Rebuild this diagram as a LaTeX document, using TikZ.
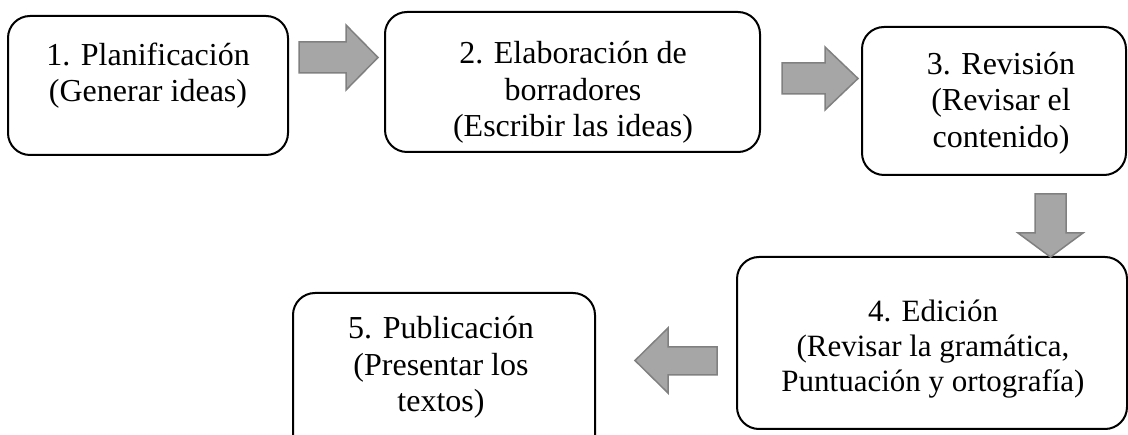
\documentclass[tikz,border=0pt]{standalone}
\usepackage{fontspec}
\setmainfont{Liberation Serif}
\definecolor{arrfill}{RGB}{166,166,166}
\definecolor{arredge}{RGB}{128,128,128}
\begin{document}
\begin{tikzpicture}[x=1pt,y=-1pt,
  box/.style={draw=black, line width=2pt, rounded corners=22pt, inner sep=0pt, rectangle},
  txt/.style={align=center, inner sep=0pt, font=\fontsize{32}{36.5}\selectfont},
  blockarrow/.style={fill=arrfill, draw=arredge, line width=1.5pt, line join=miter}]
\useasboundingbox (0,0) rectangle (1128,435);
\fill[white] (0,0) rectangle (1128,435);
% boxes
\node[box, minimum width=280pt, minimum height=139pt] (b1) at (148,85.5) {};
\node[box, minimum width=375pt, minimum height=140pt] (b2) at (572.5,82) {};
\node[box, minimum width=264pt, minimum height=148pt] (b3) at (994,101) {};
\node[box, minimum width=390pt, minimum height=172pt] (b4) at (932,343) {};
\node[box, minimum width=302pt, minimum height=170pt] (b5) at (444,378) {};
% texts (anchored at the baseline of the last line)
\node[txt, anchor=base] (t1) at (148,102) {1. Planificación\\(Generar ideas)};
\node[txt, anchor=base] (t2) at (573,137) {2. Elaboración de\\borradores\\(Escribir las ideas)};
\node[txt, anchor=base] (t3) at (1001,147.5) {3. Revisión\\(Revisar el\\contenido)};
\node[txt, anchor=base, font=\fontsize{31}{35}\selectfont] (t4) at (933,392) {4. Edición\\(Revisar la gramática,\\Puntuación y ortografía)};
\node[txt, anchor=base] (t5) at (441,412) {5. Publicación\\(Presentar los\\textos)};
% block arrows
\draw[blockarrow] (299,42)--(346,42)--(346,25)--(378,57.5)--(346,90)--(346,73)--(299,73)--cycle;
\draw[blockarrow] (782,63)--(825,63)--(825,47)--(858,78.5)--(825,110)--(825,94)--(782,94)--cycle;
\draw[blockarrow] (1035,194)--(1066,194)--(1066,233)--(1083,233)--(1050.5,257)--(1018,233)--(1035,233)--cycle;
\draw[blockarrow] (717,347)--(668,347)--(668,328)--(635,360.5)--(668,393)--(668,375)--(717,375)--cycle;
\end{tikzpicture}
\end{document}
